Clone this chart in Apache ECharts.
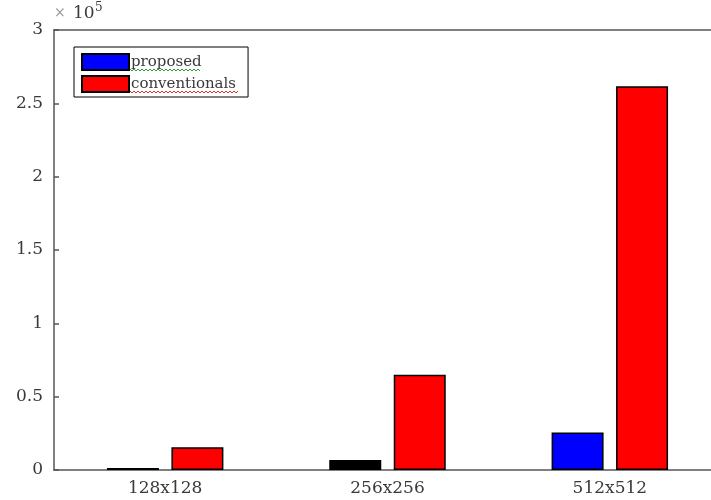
<!DOCTYPE html>
<html>
<head>
<meta charset="utf-8">
<script src="https://cdn.jsdelivr.net/npm/echarts@6/dist/echarts.min.js"></script>
<style>
  html, body { margin: 0; padding: 0; background: #fff; }
  #chart { width: 711px; height: 500px; }
</style>
</head>
<body>
<div id="chart"></div>
<script>
// Image sizes compared
const categories = ['128x128', '256x256', '512x512'];
const proposed = [1400, 6800, 25500];
const conventionals = [15500, 65000, 261600];
const seriesNames = ['proposed', 'conventionals'];
const yTickValues = [0, 0.5, 1, 1.5, 2, 2.5, 3]; // in units of 10^5

const SERIF = '"DejaVu Serif", "Liberation Serif", serif';
const TEXT = '#3a3a3a';
const AXIS = '#555';

// Small bars render solid black (edge fills the whole bar)
const proposedData = proposed.map((v, i) =>
  i < 2 ? { value: v, itemStyle: { color: '#000' } } : v);

// wavy proofing underline under a legend label
function squiggle(x0, x1, y, color) {
  const pts = [];
  let up = true;
  for (let x = x0; x <= x1; x += 2) { pts.push([x, y + (up ? -1 : 1)]); up = !up; }
  return { type: 'polyline', shape: { points: pts }, style: { stroke: color, lineWidth: 1, fill: null }, z: 100 };
}

const chart = echarts.init(document.getElementById('chart'), null, { renderer: 'canvas' });
chart.setOption({
  animation: false,
  backgroundColor: '#fff',
  // the plot box runs past the right edge of the canvas
  grid: { left: 54, width: 667, top: 30, height: 440, outerBoundsMode: 'none', containLabel: false },
  legend: {
    data: seriesNames,
    orient: 'vertical',
    left: 74, top: 47,
    padding: [6, 12, 4, 7],
    itemGap: 4,
    itemWidth: 47, itemHeight: 16,
    icon: 'rect',
    borderColor: '#000', borderWidth: 1,
    backgroundColor: '#fff',
    textStyle: { fontFamily: SERIF, fontSize: 15, color: TEXT, padding: [0, 0, 0, -3] }
  },
  xAxis: [{
    type: 'category',
    data: categories,
    position: 'bottom',
    axisLine: { lineStyle: { color: AXIS, width: 1.5 } },
    axisTick: { inside: true, alignWithLabel: true, length: 4, lineStyle: { color: AXIS, width: 1.5 } },
    axisLabel: { fontFamily: SERIF, fontSize: 17, color: TEXT, margin: 10 },
    splitLine: { show: false }
  }, {
    type: 'category',
    data: categories,
    position: 'top',
    axisLine: { lineStyle: { color: AXIS, width: 1.5 } },
    axisTick: { inside: true, alignWithLabel: true, length: 4, lineStyle: { color: AXIS, width: 1.5 } },
    axisLabel: { show: false },
    splitLine: { show: false }
  }],
  yAxis: {
    type: 'value',
    min: 0, max: 300000, interval: 50000,
    axisLine: { show: true, lineStyle: { color: AXIS, width: 1.5 } },
    axisTick: { show: true, inside: true, length: 5, lineStyle: { color: AXIS, width: 1.5 } },
    axisLabel: {
      fontFamily: SERIF, fontSize: 17, color: TEXT, margin: 11,
      formatter: v => {
        const t = yTickValues.find(k => Math.abs(k * 1e5 - v) < 1);
        return t === undefined ? '' : String(t);
      }
    },
    splitLine: { show: false }
  },
  series: [{
    name: seriesNames[0],
    type: 'bar',
    xAxisIndex: 0,
    data: proposedData,
    barWidth: 52,
    barGap: '24%',
    itemStyle: { color: '#0000ff', borderColor: '#000', borderWidth: 1.5 }
  }, {
    name: seriesNames[1],
    type: 'bar',
    xAxisIndex: 0,
    data: conventionals,
    barWidth: 52,
    barGap: '24%',
    itemStyle: { color: '#ff0000', borderColor: '#000', borderWidth: 1.5 }
  }],
  graphic: [
    { type: 'text', left: 54, top: 6, z: 100,
      style: { text: '×', fontFamily: SERIF, fontSize: 14, fill: '#999' } },
    { type: 'text', left: 73, top: 5, z: 100,
      style: { text: '10', fontFamily: SERIF, fontSize: 17, fill: TEXT } },
    { type: 'text', left: 95, top: 2, z: 100,
      style: { text: '5', fontFamily: SERIF, fontSize: 12, fill: TEXT } },
    squiggle(130, 200, 70, '#2fa02f'),
    squiggle(130, 238, 92, '#e03030')
  ]
});
</script>
</body>
</html>
